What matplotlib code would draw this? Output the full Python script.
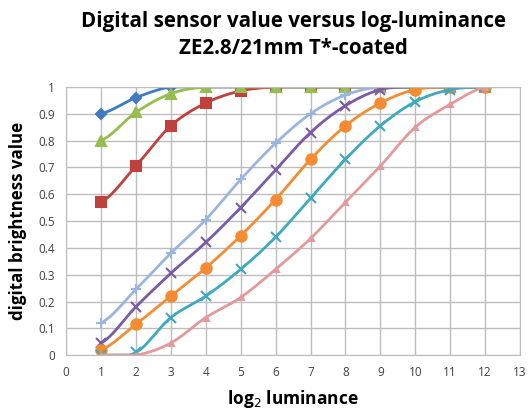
import numpy as np
import matplotlib.pyplot as plt

# log2 luminance steps
x = [1, 2, 3, 4, 5, 6, 7, 8, 9, 10, 11, 12]

# digital brightness per exposure series
blue = [0.90, 0.96, 1.0, 1.0, 1.0, 1.0, 1.0, 1.0, 1.0, 1.0, 1.0, 1.0]
green = [0.80, 0.905, 0.975, 1.0, 1.0, 1.0, 1.0, 1.0, 1.0, 1.0, 1.0, 1.0]
red = [0.57, 0.705, 0.855, 0.94, 0.985, 1.0, 1.0, 1.0, 1.0, 1.0, 1.0, 1.0]
lightblue = [0.12, 0.245, 0.38, 0.505, 0.655, 0.79, 0.90, 0.97, 1.0, 1.0, 1.0, 1.0]
purple = [0.045, 0.18, 0.305, 0.42, 0.55, 0.69, 0.83, 0.93, 0.99, 1.0, 1.0, 1.0]
orange = [0.02, 0.115, 0.22, 0.325, 0.445, 0.58, 0.73, 0.855, 0.94, 0.99, 1.0, 1.0]
teal = [0.0, 0.01, 0.14, 0.22, 0.32, 0.44, 0.585, 0.73, 0.855, 0.945, 0.99, 1.0]
pink = [0.0, 0.0, 0.045, 0.14, 0.215, 0.32, 0.435, 0.57, 0.705, 0.85, 0.935, 1.0]


def smooth(xs, ys, n=20):
    # Catmull-Rom curve through the points, like Excel's smoothed lines
    xs = np.asarray(xs, float)
    ys = np.asarray(ys, float)
    px = np.concatenate([[2 * xs[0] - xs[1]], xs, [2 * xs[-1] - xs[-2]]])
    py = np.concatenate([[ys[0]], ys, [ys[-1]]])
    ox, oy = [], []
    t = np.linspace(0, 1, n, endpoint=False)
    for i in range(1, len(px) - 2):
        for p, out in ((px, ox), (py, oy)):
            p0, p1, p2, p3 = p[i - 1], p[i], p[i + 1], p[i + 2]
            m1 = (p2 - p0) / 2
            m2 = (p3 - p1) / 2
            h00 = 2 * t**3 - 3 * t**2 + 1
            h10 = t**3 - 2 * t**2 + t
            h01 = -2 * t**3 + 3 * t**2
            h11 = t**3 - t**2
            out.extend(h00 * p1 + h10 * m1 + h01 * p2 + h11 * m2)
    ox.append(xs[-1])
    oy.append(ys[-1])
    return np.array(ox), np.clip(oy, 0, 1)


plt.rcParams['font.family'] = ['Open Sans', 'DejaVu Sans']

fig = plt.figure(figsize=(5.28, 4.12), dpi=100)
ax = fig.add_axes([0.125, 0.138, 0.86, 0.651])

series = [
    (blue, '#3F7BC2', 'D', 5.5),
    (red, '#C0403D', 's', 7.5),
    (green, '#95BE4E', '^', 7.5),
    (lightblue, '#9AB6E0', '+', 7),
    (purple, '#7A5CA6', 'x', 7),
    (orange, '#F58C33', 'o', 7.5),
    (teal, '#3FA9BE', 'x', 7),
    (pink, '#E29A9A', '^', 3.5),
]
for ys, col, mk, ms in series:
    sx, sy = smooth(x, ys)
    ax.plot(sx, sy, color=col, lw=2)
    ax.plot(x, ys, ls='none', marker=mk, color=col, ms=ms, mew=1.5)

ax.set_xlim(0, 13)
ax.set_ylim(0, 1)
ax.set_xticks(range(0, 14))
ax.set_yticks(np.round(np.arange(0, 1.01, 0.1), 1))
ax.set_yticklabels(['0', '0.1', '0.2', '0.3', '0.4', '0.5', '0.6', '0.7', '0.8', '0.9', '1'])
ax.grid(color='#BDBDBD', lw=1)
ax.set_axisbelow(True)
for s in ax.spines.values():
    s.set_color('#BDBDBD')
ax.tick_params(length=0, labelsize=8.5, colors='#404040', pad=8)

ax.set_xlabel('log$_2$ luminance', fontsize=12.5, fontweight='bold', labelpad=6)
ax.set_ylabel('digital brightness value', fontsize=12.2, fontweight='bold', labelpad=8)
fig.text(0.555, 0.947, 'Digital sensor value versus log-luminance', ha='center',
         va='center', fontsize=14.8, fontweight='bold')
fig.text(0.555, 0.883, 'ZE2.8/21mm T*-coated', ha='center', va='center',
         fontsize=14.8, fontweight='bold')

fig.savefig('out.png', dpi=100)
